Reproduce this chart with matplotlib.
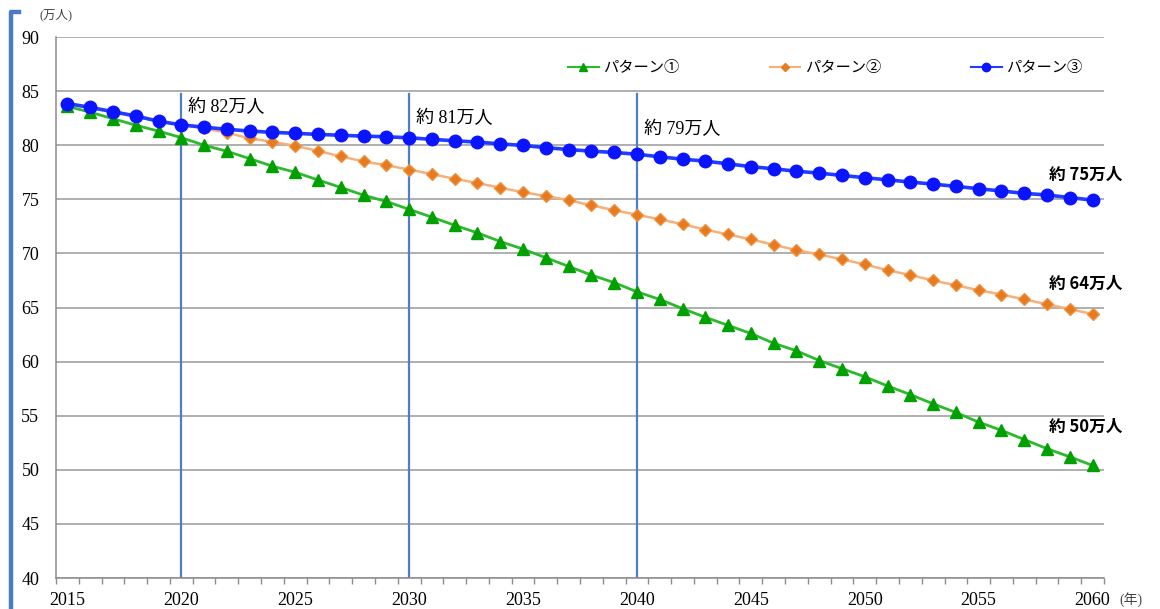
import numpy as np
import matplotlib
matplotlib.use("Agg")
import matplotlib.pyplot as plt
from matplotlib.lines import Line2D

plt.rcParams['font.family'] = ['Liberation Serif', 'Noto Sans CJK JP']

# 将来推計（万人）
years = list(range(2015, 2061))

pattern1 = [83.6, 83.05, 82.45, 81.85, 81.3, 80.7, 80.0, 79.44, 78.76, 78.06,
            77.5, 76.79, 76.1, 75.38, 74.8, 74.07, 73.35, 72.6, 71.9, 71.1,
            70.4, 69.6, 68.8, 68.0, 67.3, 66.45, 65.75, 64.9, 64.1, 63.35,
            62.6, 61.7, 61.0, 60.1, 59.35, 58.6, 57.75, 56.95, 56.1, 55.3,
            54.4, 53.65, 52.8, 51.95, 51.2, 50.4]

pattern2 = [83.8, 83.45, 83.05, 82.65, 82.2, 81.85, 81.55, 81.16, 80.63, 80.31,
            79.94, 79.47, 78.97, 78.5, 78.15, 77.75, 77.33, 76.9, 76.5, 76.07,
            75.65, 75.3, 74.93, 74.44, 74.0, 73.57, 73.15, 72.7, 72.2, 71.75,
            71.3, 70.8, 70.3, 69.9, 69.45, 68.98, 68.45, 68.0, 67.5, 67.05,
            66.6, 66.2, 65.75, 65.3, 64.85, 64.4]

pattern3 = [83.85, 83.5, 83.1, 82.7, 82.22, 81.88, 81.67, 81.47, 81.31, 81.19,
            81.1, 81.0, 80.92, 80.84, 80.78, 80.69, 80.54, 80.41, 80.29, 80.12,
            79.98, 79.78, 79.6, 79.45, 79.33, 79.17, 78.93, 78.71, 78.53, 78.28,
            78.02, 77.82, 77.6, 77.42, 77.21, 77.0, 76.8, 76.6, 76.4, 76.2,
            75.98, 75.77, 75.55, 75.4, 75.16, 74.93]

series_names = ['パターン①', 'パターン②', 'パターン③']

marker_years = [2020, 2030, 2040]
marker_labels = ['約 82万人', '約 81万人', '約 79万人']
end_labels = ['約 50万人', '約 64万人', '約 75万人']

fig = plt.figure(figsize=(11.6, 6.09), dpi=100)
ax = fig.add_axes([0.0483, 0.0509, 0.9034, 0.8883])

# 系列
ax.plot(years, pattern1, color='#2db82d', lw=2.0, marker='^', ms=9,
        mfc='#00a000', mec='#00a000', label=series_names[0], zorder=3)
ax.plot(years, pattern2, color='#f6b07a', lw=1.8, marker='D', ms=6,
        mfc='#e67a1e', mec='#f09040', label=series_names[1], zorder=4)
ax.plot(years, pattern3, color='#1f3cff', lw=2.6, marker='o', ms=9,
        mfc='#0a14ff', mec='#0a14ff', label=series_names[2], zorder=5)

# 基準年の縦線と注記
vals3 = dict(zip(years, pattern3))
label_offsets = [1.6, 1.8, 2.3]
for yr, txt, off in zip(marker_years, marker_labels, label_offsets):
    ax.plot([yr, yr], [40, 84.75], color='#4f7fc0', lw=1.6, zorder=2)
    ax.text(yr + 0.3, vals3[yr] + off, txt, fontsize=13, ha='left', va='center')

ends = [pattern1[-1], pattern2[-1], pattern3[-1]]
offsets = [3.6, 2.75, 2.3]
for val, off, txt in zip(ends, offsets, end_labels):
    ax.text(2059.7, val + off, txt, fontsize=12, ha='center', va='center',
            family=['Noto Sans CJK JP'], fontweight='bold')

# 軸
ax.set_xlim(2014.5, 2060.5)
ax.set_ylim(40, 90)
ax.set_yticks(np.arange(40, 91, 5))
ax.set_xticks(np.arange(2014.5, 2061, 1))
ax.set_xticklabels([])
ax.set_xticks(np.arange(2015, 2061, 5), minor=True)
ax.set_xticklabels([str(y) for y in range(2015, 2061, 5)], minor=True)
ax.tick_params(axis='x', which='major', length=4, color='#8c8c8c', width=1)
ax.tick_params(axis='x', which='minor', length=0, labelsize=13, pad=10)
ax.tick_params(axis='y', length=0, labelsize=13, pad=12)
ax.grid(axis='y', color='#9a9a9a', lw=1.1)
ax.set_axisbelow(True)
for side in ['top', 'right']:
    ax.spines[side].set_visible(False)
for side in ['left', 'bottom']:
    ax.spines[side].set_color('#8c8c8c')
    ax.spines[side].set_linewidth(1.1)

fig.text(0.034, 0.975, '(万人)', fontsize=9, color='#444444', ha='left', va='center')
fig.text(0.965, 0.016, '(年)', fontsize=10, color='#444444', ha='left', va='center')

# 凡例
handles = [
    Line2D([], [], color='#2db82d', lw=1.5, marker='^', ms=6, mfc='#00a000', mec='#00a000'),
    Line2D([], [], color='#f6b07a', lw=1.5, marker='D', ms=4, mfc='#e67a1e', mec='#e67a1e'),
    Line2D([], [], color='#1f3cff', lw=1.5, marker='o', ms=6, mfc='#0a14ff', mec='#0a14ff'),
]
ax.legend(handles, series_names, loc='center', bbox_to_anchor=(0.734, 0.943),
          ncol=3, frameon=False, handlelength=2.0,
          handletextpad=0.3, columnspacing=5.9,
          prop={'family': ['Noto Sans CJK JP'], 'size': 11})

# 左側の枠線
fig.add_artist(Line2D([11 / 1160, 11 / 1160, 19 / 1160], [0, 1 - 12 / 609, 1 - 12 / 609],
                      transform=fig.transFigure, color='#4a7cc4', lw=3.2))

fig.savefig('out.png', dpi=100)
